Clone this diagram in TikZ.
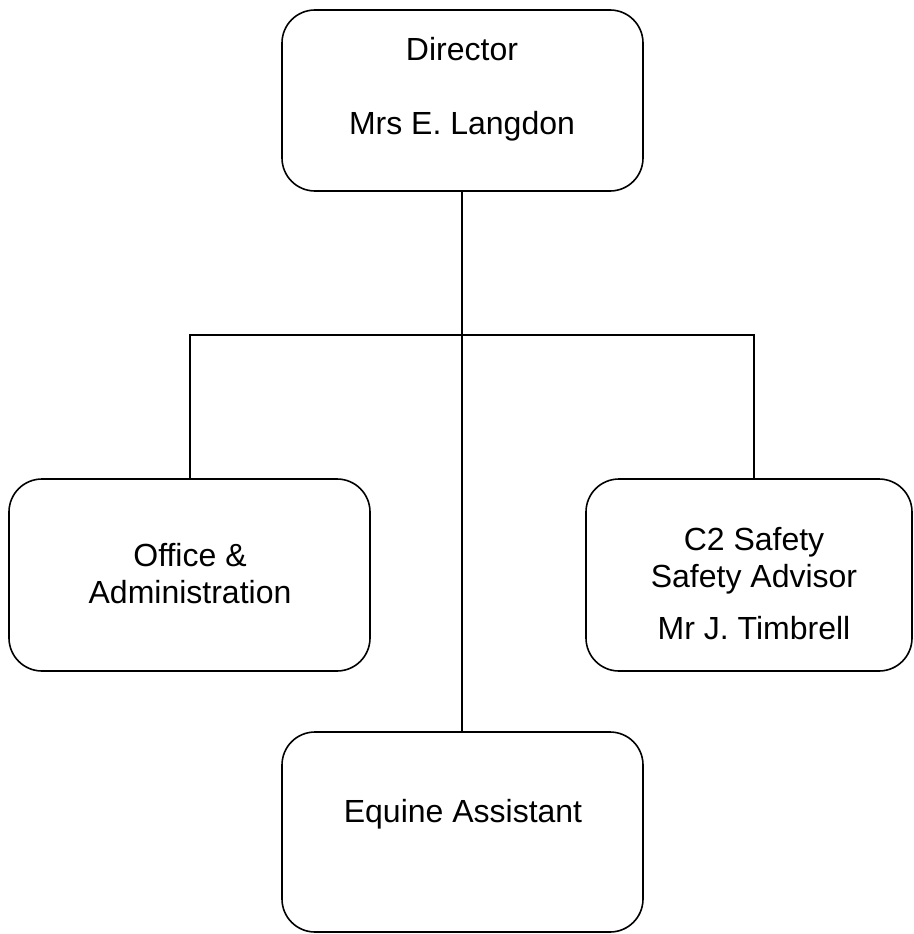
\documentclass[tikz,border=0pt]{standalone}
\usepackage{fontspec}
\setmainfont{Liberation Sans}
\begin{document}
\begin{tikzpicture}[x=1pt,y=-1pt,
  box/.style={draw=black,line width=1.6pt,rounded corners=33pt},
  lbl/.style={anchor=base,inner sep=0pt,font=\fontsize{32}{37}\selectfont},
  conn/.style={draw=black,line width=1.5pt}]
\useasboundingbox (0,0) rectangle (913,934);
\clip (0,0) rectangle (913,934);
% boxes
\draw[box] (282,10) rectangle (643,191);
\draw[box] (9,479) rectangle (370,671);
\draw[box] (586,479) rectangle (912,671);
\draw[box] (282,732) rectangle (643,932);
\coordinate (dirB) at (462,191);
\coordinate (hub) at (462,335);
\coordinate (hl) at (190,335);
\coordinate (hr) at (754,335);
\coordinate (offT) at (190,479);
\coordinate (safT) at (754,479);
\coordinate (eqT) at (462,732);
% labels
\node[lbl] (d1) at (462,60) {Director};
\node[lbl] (d2) at (462,134) {Mrs E. Langdon};
\node[lbl] (o1) at (190,566) {Office \&};
\node[lbl] (o2) at (190,603) {Administration};
\node[lbl] (s1) at (754,550) {C2 Safety};
\node[lbl] (s2) at (754,587) {Safety Advisor};
\node[lbl] (s3) at (754,639) {Mr J. Timbrell};
\node[lbl] (e1) at (463,822) {Equine Assistant};
% connectors
\draw[conn,line width=2.2pt] (dirB) -- (hub);
\draw[conn] (offT) -- (hl) -- (hr) -- (safT);
\draw[conn] (hub) -- (eqT);
\end{tikzpicture}
\end{document}
